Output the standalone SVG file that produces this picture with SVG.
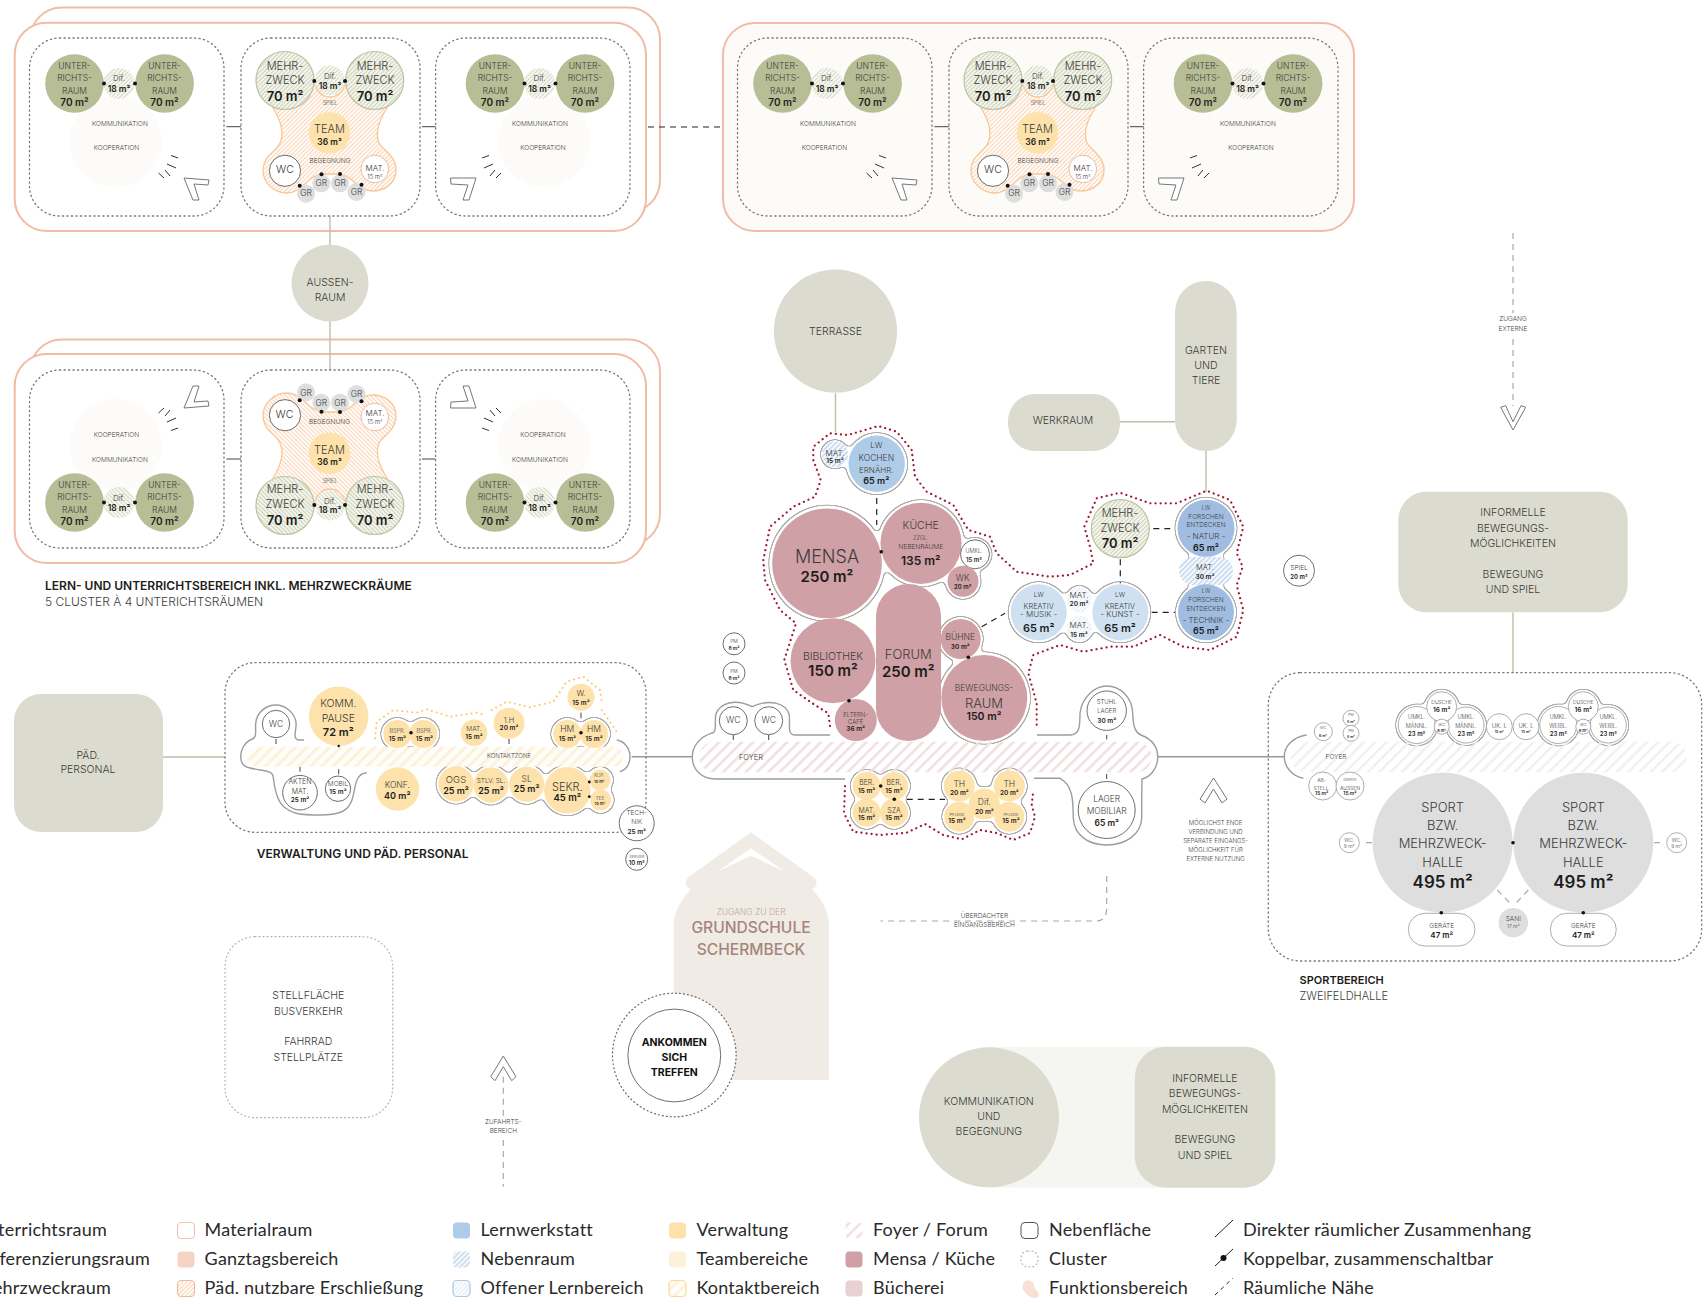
<svg xmlns="http://www.w3.org/2000/svg" width="1708" height="1304" viewBox="0 0 1708 1304">
<style>
text{font-family:Inter,"Liberation Sans",sans-serif;text-anchor:middle;dominant-baseline:central;fill:#3c3c3a;font-weight:300}
.b{font-weight:600;fill:#1d1d1b}.l{text-anchor:start}
.z35{font-size:3.5px}.z4{font-size:4px}.z45{font-size:4.5px}.z5{font-size:5px}.z55{font-size:5.5px}.z6{font-size:6px}.z65{font-size:6.5px}.z7{font-size:7px}.z75{font-size:7.5px}.z8{font-size:8px}.z85{font-size:8.5px}.z9{font-size:9px}.z95{font-size:9.5px}.z10{font-size:10px}.z105{font-size:10.5px}.z11{font-size:11px}.z12{font-size:12px}.z13{font-size:13px}.z15{font-size:15px}.z17{font-size:17px}.z18{font-size:18px}
.leg{font-family:Lato,"Liberation Sans",sans-serif;font-size:18px;letter-spacing:.2px;text-anchor:start;fill:#2a2a2a;font-weight:400}
.ur{fill:#b7bd95}.mz{fill:url(#hG);stroke:#bcc3a1;stroke-width:1.2}.dif{fill:url(#hG2)}
.y{fill:#fde2ab}.m{fill:#cfa0a6}.w{fill:#fff;stroke:#6e6e6e;stroke-width:1}.wl{fill:#fff;stroke:#999;stroke-width:.8}
.gr{fill:#dedede}.sg{fill:#dbdccf}.lb{fill:#aecbe8}.lp{fill:#cfe1f0}.ld{fill:#a0bce0}
.d{fill:#111}.pk{fill:#fff;stroke:#eebba6;stroke-width:1}
.cl{fill:none;stroke:#777;stroke-width:1.3;stroke-dasharray:1.2 3.3;stroke-linecap:round}
.clf{fill:none;stroke:#b5b5b5;stroke-width:1.2;stroke-dasharray:1 3;stroke-linecap:round}
.peach{fill:#fff;stroke:#f1bba5;stroke-width:2}
.c{stroke:#444;stroke-width:1;fill:none}.cg{stroke:#bcc0a4;stroke-width:1.4;fill:none}.cm{stroke:#999;stroke-width:1.4;fill:none}
.cd{stroke:#222;stroke-width:1.2;stroke-dasharray:6 5;fill:none}.cdg{stroke:#a9a9a9;stroke-width:1.2;stroke-dasharray:6 5;fill:none}
.red{fill:none;stroke:#9c1b32;stroke-width:2.2;stroke-dasharray:.1 5;stroke-linecap:round;stroke-linejoin:round}
.yd{fill:none;stroke:#fbc868;stroke-width:2;stroke-dasharray:.1 5;stroke-linecap:round}
.o{fill:none;stroke:#9d9d9d;stroke-width:1.4}
.ch{fill:#fff;stroke:#777;stroke-width:1}
.ti{stroke:#333;stroke-width:1;fill:none}
</style>
<defs>
<pattern id="hG" width="3" height="3" patternUnits="userSpaceOnUse" patternTransform="rotate(45)"><rect width="3" height="3" fill="#f6f7f0"/><rect width="1.1" height="3" fill="#cdd2b8"/></pattern>
<pattern id="hG2" width="3" height="3" patternUnits="userSpaceOnUse" patternTransform="rotate(45)"><rect width="3" height="3" fill="#f8f8f3"/><rect width="1" height="3" fill="#d5d8c2"/></pattern>
<pattern id="hO" width="3" height="3" patternUnits="userSpaceOnUse" patternTransform="rotate(45)"><rect width="3" height="3" fill="#fff"/><rect width="1.1" height="3" fill="#fbd4b4"/></pattern>
<pattern id="hPale" width="3" height="3" patternUnits="userSpaceOnUse" patternTransform="rotate(45)"><rect width="3" height="3" fill="#fefdfc"/><rect width="1" height="3" fill="#fbf8f4"/></pattern>
<pattern id="hP" width="8" height="8" patternUnits="userSpaceOnUse" patternTransform="rotate(45)"><rect width="2.6" height="8" fill="#f1dfe1"/></pattern>
<pattern id="hY" width="8" height="8" patternUnits="userSpaceOnUse" patternTransform="rotate(45)"><rect width="8" height="8" fill="#fffdf9"/><rect width="2.6" height="8" fill="#fdf0d6"/></pattern>
<pattern id="hGy" width="8" height="8" patternUnits="userSpaceOnUse" patternTransform="rotate(45)"><rect width="2.4" height="8" fill="#f0f0f0"/></pattern>
<pattern id="hB" width="3.6" height="3.6" patternUnits="userSpaceOnUse" patternTransform="rotate(45)"><rect width="3.6" height="3.6" fill="#f5f9fd"/><rect width="1.3" height="3.6" fill="#bdd3ec"/></pattern>
<pattern id="hB2" width="3" height="3" patternUnits="userSpaceOnUse" patternTransform="rotate(45)"><rect width="3" height="3" fill="#fafcfe"/><rect width="1" height="3" fill="#e3edf6"/></pattern>
<filter id="goo" x="-12%" y="-12%" width="124%" height="124%" color-interpolation-filters="sRGB">
<feGaussianBlur in="SourceAlpha" stdDeviation="2.5"/>
<feColorMatrix values="0 0 0 0 .68  0 0 0 0 .68  0 0 0 0 .68  0 0 0 14 -6" result="o"/>
<feMorphology in="o" operator="erode" radius="1" result="e"/>
<feComposite in="o" in2="e" operator="out"/>
</filter>
<g id="sU">
<circle class="dif" cx="119" cy="83.5" r="15.5"/>
<ellipse class="ur" cx="74.5" cy="83.5" rx="29.3" ry="29.3"/>
<ellipse class="ur" cx="164.6" cy="83.5" rx="29.3" ry="29.3"/>
<circle class="d" cx="104" cy="83.5" r="2"/><circle class="d" cx="135" cy="83.5" r="2"/>
</g>
<g id="sB">
<path d="M273,108 C282,122 284,135 280,143 C276,152 263,156 263,170 C263,183 274,193 287,193 C303,193 308,174 324,174 L337,174 C352,174 358,191 372,191 C385,191 396,183 396,170 C396,156 383,150 379,143 C375,133 378,122 387,108 L345,85 C342,93 336,97 330,97 C324,97 318,93 315,85 Z" fill="url(#hO)" stroke="#fbc691" stroke-width="1.3"/>
<circle class="mz" cx="285" cy="80.5" r="29"/><circle class="mz" cx="374.7" cy="80.5" r="29"/>
<circle class="dif" cx="330" cy="80.5" r="15"/>
<circle class="y" cx="329.5" cy="132.8" r="20.8"/>
<circle class="w" cx="285" cy="170.8" r="15.6"/><circle class="pk" cx="374.8" cy="169" r="13.8"/>
<circle class="gr" cx="306" cy="193.7" r="9"/><circle class="gr" cx="321.3" cy="183.3" r="9"/><circle class="gr" cx="340" cy="183.3" r="9"/><circle class="gr" cx="356.5" cy="192" r="9"/>
<circle class="d" cx="314.3" cy="81" r="2"/><circle class="d" cx="345" cy="81" r="2"/><circle class="d" cx="299.7" cy="185.7" r="2"/><circle class="d" cx="321.5" cy="174.3" r="2"/><circle class="d" cx="340" cy="174" r="2"/><circle class="d" cx="361.5" cy="184.7" r="2"/>
</g>
<g id="chA"><polygon class="ch" points="184,178 209,180 208,185 194,184 199,200 193,200"/><path class="ti" d="M171,155.500L178,158M167,164L176,168M165,170L170,176M158.500,173L164,178"/></g>
<g id="chC"><polygon class="ch" points="450.500,178 476,178 469,200 463,200 468,185 451,184"/><path class="ti" d="M489,155.500L482,158M493,164L484,168M495,170L490,176M501,173L496,178"/></g>
</defs>
<rect width="1708" height="1304" fill="#fff"/>

<g id="frames">
<rect class="peach" x="30" y="7.500" width="630" height="205" rx="32"/><rect class="peach" x="14.700" y="22.700" width="631.300" height="208.300" rx="32"/>
<rect class="peach" x="30" y="339.500" width="630" height="206" rx="32"/><rect class="peach" x="14.700" y="354" width="631.300" height="209" rx="32"/>
<rect x="723" y="23" width="631" height="208" rx="32" fill="#fdfbf8" stroke="#f1bba5" stroke-width="2"/>
</g>

<g id="connectors">
<path class="c" d="M226.400,126.700H241M422,126.700H435.600M934.400,126.700H949M1130,126.700H1143.600M226.400,459H241M422,459H435.600"/>
<path class="cd" d="M648,127H722"/>
<path class="cg" d="M330,216V370M835.500,393V432M1120,421.700H1175M1206,451V491.700M1513,612.300V672.700M163,757H225"/>
<path class="cm" d="M631.700,756.700H692.300M1157.700,756.700H1284.300"/>
<path class="cdg" d="M1513,233V313M1513,339V406M503.300,1076.700V1116.700M503.300,1140V1186.700M1106.700,876V908.300Q1106.700,921 1095.500,921H880.400"/>
<path class="cdg" d="M1497.300,890L1512.700,906M1528.300,890L1513.300,906M1366,842.700H1372M1654.300,842.700H1660"/>
<path class="cd" d="M876.700,498V525M1153.300,528.700H1175M1120.300,559.300V583.300M1151.700,612.300H1175M981.700,626.700L1005,613.300M906.700,799.300H945"/>
<path class="c" d="M733.300,735V740M768.700,735V740M1106.700,735V739.300M1106.700,774V779M276,739V744M300,766.700V771.700M338.700,769.300V774.300M509,739V744M581,712.700V718.300"/>
</g>

<g id="row1-left">
<g id="r1-a"><rect class="cl" x="29.500" y="38" width="194.500" height="178" rx="30"/><circle fill="url(#hPale)" cx="115.700" cy="141" r="46"/><use href="#sU"/><use href="#chA"/>
<text x="74.500" y="66" class="z85">UNTER-</text><text x="74.500" y="78.300" class="z85">RICHTS-</text><text x="74.500" y="90.700" class="z85">RAUM</text><text x="74.500" y="101.500" class="z10 b">70 m²</text>
<text x="164.500" y="66" class="z85">UNTER-</text><text x="164.500" y="78.300" class="z85">RICHTS-</text><text x="164.500" y="90.700" class="z85">RAUM</text><text x="164.500" y="101.500" class="z10 b">70 m²</text>
<text x="119" y="77.700" class="z8">Dif.</text><text x="119" y="89" class="z85 b">18 m²</text>
<text x="120" y="124.300" class="z65">KOMMUNIKATION</text><text x="116.500" y="148.300" class="z65">KOOPERATION</text></g>
<g id="r1-b"><rect class="cl" x="241" y="38" width="179" height="178" rx="30"/><use href="#sB"/>
<text x="285" y="65.700" class="z11">MEHR-</text><text x="285" y="80.300" class="z11">ZWECK</text><text x="285" y="95.700" class="z13 b">70 m²</text>
<text x="375" y="65.700" class="z11">MEHR-</text><text x="375" y="80.300" class="z11">ZWECK</text><text x="375" y="95.700" class="z13 b">70 m²</text>
<text x="330" y="76" class="z8">Dif.</text><text x="330" y="85.700" class="z85 b">18 m²</text><text x="330" y="103.300" class="z55">SPIEL</text>
<text x="329.500" y="129.300" class="z11">TEAM</text><text x="329.500" y="141.700" class="z85 b">36 m²</text><text x="330" y="161" class="z65">BEGEGNUNG</text>
<text x="285" y="169" class="z105">WC</text><text x="375" y="168.300" class="z8">MAT.</text><text x="375" y="176.700" class="z6">15 m²</text>
<text x="306" y="193.300" class="z85">GR</text><text x="321.300" y="183.300" class="z85">GR</text><text x="340" y="183.300" class="z85">GR</text><text x="356.500" y="192" class="z85">GR</text></g>
<g id="r1-c"><rect class="cl" x="435.600" y="38" width="194.400" height="178" rx="30"/><circle fill="url(#hPale)" cx="544" cy="141" r="46"/><use href="#sU" x="420.500"/><use href="#chC"/>
<text x="495" y="66" class="z85">UNTER-</text><text x="495" y="78.300" class="z85">RICHTS-</text><text x="495" y="90.700" class="z85">RAUM</text><text x="495" y="101.500" class="z10 b">70 m²</text>
<text x="585" y="66" class="z85">UNTER-</text><text x="585" y="78.300" class="z85">RICHTS-</text><text x="585" y="90.700" class="z85">RAUM</text><text x="585" y="101.500" class="z10 b">70 m²</text>
<text x="539.500" y="77.700" class="z8">Dif.</text><text x="539.500" y="89" class="z85 b">18 m²</text>
<text x="540" y="124.300" class="z65">KOMMUNIKATION</text><text x="543" y="148.300" class="z65">KOOPERATION</text></g>
</g>

<g id="row1-right" transform="translate(708 0)">
<g id="r2-a"><rect class="cl" x="29.500" y="38" width="194.500" height="178" rx="30"/><circle fill="url(#hPale)" cx="115.700" cy="141" r="46"/><use href="#sU"/><use href="#chA"/>
<text x="74.500" y="66" class="z85">UNTER-</text><text x="74.500" y="78.300" class="z85">RICHTS-</text><text x="74.500" y="90.700" class="z85">RAUM</text><text x="74.500" y="101.500" class="z10 b">70 m²</text>
<text x="164.500" y="66" class="z85">UNTER-</text><text x="164.500" y="78.300" class="z85">RICHTS-</text><text x="164.500" y="90.700" class="z85">RAUM</text><text x="164.500" y="101.500" class="z10 b">70 m²</text>
<text x="119" y="77.700" class="z8">Dif.</text><text x="119" y="89" class="z85 b">18 m²</text>
<text x="120" y="124.300" class="z65">KOMMUNIKATION</text><text x="116.500" y="148.300" class="z65">KOOPERATION</text></g>
<g id="r2-b"><rect class="cl" x="241" y="38" width="179" height="178" rx="30"/><use href="#sB"/>
<text x="285" y="65.700" class="z11">MEHR-</text><text x="285" y="80.300" class="z11">ZWECK</text><text x="285" y="95.700" class="z13 b">70 m²</text>
<text x="375" y="65.700" class="z11">MEHR-</text><text x="375" y="80.300" class="z11">ZWECK</text><text x="375" y="95.700" class="z13 b">70 m²</text>
<text x="330" y="76" class="z8">Dif.</text><text x="330" y="85.700" class="z85 b">18 m²</text><text x="330" y="103.300" class="z55">SPIEL</text>
<text x="329.500" y="129.300" class="z11">TEAM</text><text x="329.500" y="141.700" class="z85 b">36 m²</text><text x="330" y="161" class="z65">BEGEGNUNG</text>
<text x="285" y="169" class="z105">WC</text><text x="375" y="168.300" class="z8">MAT.</text><text x="375" y="176.700" class="z6">15 m²</text>
<text x="306" y="193.300" class="z85">GR</text><text x="321.300" y="183.300" class="z85">GR</text><text x="340" y="183.300" class="z85">GR</text><text x="356.500" y="192" class="z85">GR</text></g>
<g id="r2-c"><rect class="cl" x="435.600" y="38" width="194.400" height="178" rx="30"/><circle fill="url(#hPale)" cx="544" cy="141" r="46"/><use href="#sU" x="420.500"/><use href="#chC"/>
<text x="495" y="66" class="z85">UNTER-</text><text x="495" y="78.300" class="z85">RICHTS-</text><text x="495" y="90.700" class="z85">RAUM</text><text x="495" y="101.500" class="z10 b">70 m²</text>
<text x="585" y="66" class="z85">UNTER-</text><text x="585" y="78.300" class="z85">RICHTS-</text><text x="585" y="90.700" class="z85">RAUM</text><text x="585" y="101.500" class="z10 b">70 m²</text>
<text x="539.500" y="77.700" class="z8">Dif.</text><text x="539.500" y="89" class="z85 b">18 m²</text>
<text x="540" y="124.300" class="z65">KOMMUNIKATION</text><text x="543" y="148.300" class="z65">KOOPERATION</text></g>
</g>

<g id="row3">
<g id="r3-a"><rect class="cl" x="29.500" y="370" width="194.500" height="178" rx="30"/><g transform="matrix(1 0 0 -1 0 586)"><circle fill="url(#hPale)" cx="115.700" cy="141" r="46"/><use href="#sU"/><use href="#chA"/></g>
<text x="74.500" y="485" class="z85">UNTER-</text><text x="74.500" y="497.300" class="z85">RICHTS-</text><text x="74.500" y="510" class="z85">RAUM</text><text x="74.500" y="520.700" class="z10 b">70 m²</text>
<text x="164.500" y="485" class="z85">UNTER-</text><text x="164.500" y="497.300" class="z85">RICHTS-</text><text x="164.500" y="510" class="z85">RAUM</text><text x="164.500" y="520.700" class="z10 b">70 m²</text>
<text x="119" y="498.300" class="z8">Dif.</text><text x="119" y="508.300" class="z85 b">18 m²</text>
<text x="116.500" y="435.300" class="z65">KOOPERATION</text><text x="120" y="460.300" class="z65">KOMMUNIKATION</text></g>
<g id="r3-b"><rect class="cl" x="241" y="370" width="179" height="178" rx="30"/><use href="#sB" transform="matrix(1 0 0 -1 0 586)"/>
<text x="285" y="489.300" class="z11">MEHR-</text><text x="285" y="504.300" class="z11">ZWECK</text><text x="285" y="520" class="z13 b">70 m²</text>
<text x="375" y="489.300" class="z11">MEHR-</text><text x="375" y="504.300" class="z11">ZWECK</text><text x="375" y="520" class="z13 b">70 m²</text>
<text x="330" y="500.700" class="z8">Dif.</text><text x="330" y="510" class="z85 b">18 m²</text><text x="330" y="480.700" class="z55">SPIEL</text>
<text x="329.500" y="450.300" class="z11">TEAM</text><text x="329.500" y="462" class="z85 b">36 m²</text><text x="329.500" y="422.300" class="z65">BEGEGNUNG</text>
<text x="284.500" y="414.300" class="z105">WC</text><text x="375" y="413.300" class="z8">MAT.</text><text x="375" y="421.700" class="z6">15 m²</text>
<text x="306" y="393" class="z85">GR</text><text x="321.300" y="403" class="z85">GR</text><text x="340" y="403" class="z85">GR</text><text x="356.500" y="394" class="z85">GR</text></g>
<g id="r3-c"><rect class="cl" x="435.600" y="370" width="194.400" height="178" rx="30"/><g transform="matrix(1 0 0 -1 0 586)"><circle fill="url(#hPale)" cx="544" cy="141" r="46"/><use href="#sU" x="420.500"/><use href="#chC"/></g>
<text x="495" y="485" class="z85">UNTER-</text><text x="495" y="497.300" class="z85">RICHTS-</text><text x="495" y="510" class="z85">RAUM</text><text x="495" y="520.700" class="z10 b">70 m²</text>
<text x="585" y="485" class="z85">UNTER-</text><text x="585" y="497.300" class="z85">RICHTS-</text><text x="585" y="510" class="z85">RAUM</text><text x="585" y="520.700" class="z10 b">70 m²</text>
<text x="539.500" y="498.300" class="z8">Dif.</text><text x="539.500" y="508.300" class="z85 b">18 m²</text>
<text x="543" y="435.300" class="z65">KOOPERATION</text><text x="540" y="460.300" class="z65">KOMMUNIKATION</text></g>
</g>

<g id="aussenraum"><circle class="sg" cx="330" cy="283" r="38.500"/><text x="330" y="282" class="z105">AUSSEN-</text><text x="330" y="297" class="z105">RAUM</text></g>
<text x="45" y="585" class="l z12 b">LERN- UND UNTERRICHTSBEREICH INKL. MEHRZWECKRÄUME</text>
<text x="45" y="601.700" class="l z12">5 CLUSTER À 4 UNTERICHTSRÄUMEN</text>

<g id="terrasse"><circle class="sg" cx="835.500" cy="331" r="61.600"/><text x="835.500" y="331" class="z105">TERRASSE</text></g>
<g id="werkraum"><rect class="sg" x="1008" y="394" width="112" height="57" rx="27"/><text x="1063" y="420.500" class="z105">WERKRAUM</text></g>
<g id="garten"><rect class="sg" x="1175" y="281" width="61.700" height="170" rx="31"/><text x="1206" y="350" class="z105">GARTEN</text><text x="1206" y="365" class="z105">UND</text><text x="1206" y="380" class="z105">TIERE</text></g>
<g id="informelle1"><rect class="sg" x="1398.300" y="491.700" width="229.400" height="120.600" rx="28"/><text x="1513" y="512.300" class="z105">INFORMELLE</text><text x="1513" y="528.300" class="z105">BEWEGUNGS-</text><text x="1513" y="543.300" class="z105">MÖGLICHKEITEN</text><text x="1513" y="574" class="z105">BEWEGUNG</text><text x="1513" y="589" class="z105">UND SPIEL</text></g>
<g id="zugang-extern"><text x="1513" y="319.300" class="z65">ZUGANG</text><text x="1513" y="329.300" class="z65">EXTERNE</text><polygon class="ch" points="1500.700,407.300 1505.700,405.700 1513,421.700 1521,405.700 1525.700,407.300 1513,430"/></g>
<g id="spiel"><circle class="w" cx="1299" cy="570.700" r="15.500"/><text x="1299" y="568" class="z65">SPIEL</text><text x="1299" y="576.500" class="z6 b">20 m²</text></g>
<g id="pm1"><circle class="w" cx="734" cy="643.800" r="11"/><text x="734" y="641" class="z5">PM</text><text x="734" y="648" class="z5 b">8 m²</text></g>
<g id="pm2"><circle class="w" cx="734" cy="673" r="11"/><text x="734" y="670.500" class="z5">PM</text><text x="734" y="677.500" class="z5 b">8 m²</text></g>

<g id="zones">
<polyline class="red" points="830,726 828.300,713.300 815,705 793.300,690 784.300,660 791.700,636.700 796,623.300 780,610 765,580 763.300,560 770,526.700 793.300,506.700 815,496.700 820.700,480 813.300,460 813.300,446.700 830,433.300 848.300,435 878.300,426 896.700,431.700 911.700,450 915,476.700 926.700,491.700 953.300,505 968.300,530 990,536.700 996.700,553.300 1016.700,571.700 1050,576.700 1070,575 1093.300,563.300 1090,546.700 1084.300,526.700 1096.700,498.300 1120,492.700 1150,503.300 1176.700,503.300 1206.700,490.700 1230,500 1243.300,526.700 1236.700,553.300 1242.700,566.700 1236.700,585 1243.300,610 1236.700,636.700 1210,650 1183.300,646.700 1160,635 1133.300,646.700 1110,646.700 1083.300,651.700 1060,645 1033.300,655 1028.300,673.300 1036.700,703.300 1036.700,726.700"/>
<polyline class="red" points="845,786 844,813.300 853.300,831.700 880,835 906.700,832.700 925,824 943.300,835 961.700,839.300 980,830 996.700,833 1013.300,840 1030,833 1035,816.700 1031.700,805 1033.300,790.700"/>
<polyline class="yd" points="375,738.300 376.700,721.700 393.300,710 416.700,712.700 426.700,709.300 450,716.700 476.700,712.700 485,715"/>
<polyline class="yd" points="491.700,710 506.700,701.700 530,707.300 553.300,701.700 566.700,681.700 583.300,676.700 600,690 601.700,701.700"/>
<polyline class="yd" points="601.700,710 616.700,731.700"/>
</g>

<g id="outlines">
<g filter="url(#goo)"><circle cx="827" cy="563.300" r="58.500"/><circle cx="921" cy="543.300" r="44"/><circle cx="975" cy="554.300" r="17.500"/><circle cx="963" cy="581.300" r="18.500"/></g>
<g filter="url(#goo)"><circle cx="876.700" cy="463.700" r="31.500"/><circle cx="835" cy="454.300" r="15"/></g>
<g filter="url(#goo)"><circle cx="960.700" cy="639" r="23"/><circle cx="984.300" cy="698" r="46.500"/></g>
<g filter="url(#goo)"><circle cx="1206" cy="528.300" r="31.500"/><circle cx="1206" cy="571" r="22"/><circle cx="1206" cy="612.300" r="31"/></g>
<g filter="url(#goo)"><circle cx="1038.700" cy="612.300" r="31"/><circle cx="1079.300" cy="600" r="15"/><circle cx="1079.300" cy="628.300" r="15"/><circle cx="1120.300" cy="612.300" r="31"/></g>
<g filter="url(#goo)"><circle cx="866.700" cy="786" r="17"/><circle cx="894" cy="786" r="17"/><circle cx="866.700" cy="812.700" r="17"/><circle cx="894" cy="812.700" r="17"/></g>
<g filter="url(#goo)"><circle cx="959.300" cy="786" r="18.500"/><circle cx="1009.300" cy="786" r="18.500"/><circle cx="984.300" cy="804" r="18"/><circle cx="959.300" cy="816.700" r="18"/><circle cx="1009.300" cy="816.700" r="18"/></g>
<g filter="url(#goo)"><circle cx="397.300" cy="734" r="17"/><circle cx="423.300" cy="734" r="17"/></g>
<g filter="url(#goo)"><circle cx="567.300" cy="734" r="17"/><circle cx="594" cy="734" r="17"/></g>
<g filter="url(#goo)"><circle cx="456" cy="784" r="20.500"/><circle cx="491" cy="785" r="20.500"/><circle cx="526.700" cy="784.300" r="20.500"/><circle cx="567.300" cy="790.300" r="26"/><circle cx="600" cy="780" r="14"/><circle cx="600.700" cy="800" r="14"/></g>
<g filter="url(#goo)"><circle cx="1416.700" cy="725" r="21.500"/><circle cx="1441.700" cy="706.700" r="18"/><circle cx="1466" cy="725" r="21"/></g>
<g filter="url(#goo)"><circle cx="1558.300" cy="725" r="21.500"/><circle cx="1583.300" cy="706.700" r="18"/><circle cx="1608.300" cy="725" r="21"/></g>
</g>

<g id="foyer">
<rect x="699.300" y="741.700" width="452.400" height="30.600" rx="15" fill="url(#hP)"/>
<path class="o" d="M830,735H795C786,735 791,722 789,714C786,704 771,698 752,706.700C735,698 720,703 716,714C714,722 718,733 711,733.300C700,737 692.300,746 692.300,756.700C692.300,770 702,779 715,779H845"/>
<path class="o" d="M1037,735H1070C1080,735 1080,725 1080,713C1082,697 1095,686 1106.700,686C1120,686 1132,697 1132.700,713C1133,728 1136,733 1141,735C1151,739 1157.700,746 1157.700,756.700C1157.700,769 1150,777 1142,779C1141.700,790 1141.700,810 1141.700,818C1141,835 1125,845 1106.700,845C1088,845 1074,835 1073.300,818C1073,805 1074,785 1060,778.300H1034"/>
<circle class="w" cx="733.300" cy="720.700" r="14"/><text x="733.300" y="720" class="z85">WC</text>
<circle class="w" cx="768.700" cy="720.700" r="14"/><text x="768.700" y="720" class="z85">WC</text>
<text x="751" y="757.300" class="z75">FOYER</text>
<circle class="w" cx="1106.700" cy="710.700" r="19.700"/><text x="1106.700" y="701.700" class="z6">STUHL</text><text x="1106.700" y="710.700" class="z6">LAGER</text><text x="1106.700" y="720.700" class="z65 b">30 m²</text>
<circle class="w" cx="1106.700" cy="810" r="28.500"/><text x="1106.700" y="799" class="z85">LAGER</text><text x="1106.700" y="811" class="z85">MOBILIAR</text><text x="1106.700" y="823.300" class="z85 b">65 m²</text>
</g>

<g id="node-kochen"><circle fill="url(#hB)" cx="835" cy="454.300" r="13"/><circle class="lb" cx="876.700" cy="463.700" r="28.200"/>
<text x="876.300" y="445" class="z8">LW</text><text x="876.300" y="458" class="z85">KOCHEN</text><text x="876.300" y="470" class="z8">ERNÄHR.</text><text x="876.300" y="480.700" class="z9 b">65 m²</text>
<text x="835" y="452.700" class="z8">MAT.</text><text x="835" y="461.300" class="z65 b">15 m²</text></g>
<g id="node-mensa"><circle class="m" cx="827" cy="563.300" r="54.800"/><text x="827" y="556.700" class="z18">MENSA</text><text x="827" y="576" class="z15 b">250 m²</text></g>
<g id="node-kueche"><circle class="m" cx="921" cy="543.300" r="40.600"/><text x="920.700" y="525.300" class="z105">KÜCHE</text><text x="920.700" y="538.300" class="z55">ZZGL.</text><text x="920.700" y="547.300" class="z65">NEBENRÄUME</text><text x="920.700" y="560" class="z12 b">135 m²</text></g>
<g id="node-umkl"><circle class="w" cx="975" cy="554.300" r="14.500"/><text x="974" y="551.300" class="z55">UMKL.</text><text x="974" y="559.300" class="z6 b">15 m²</text></g>
<g id="node-wk"><circle class="m" cx="963" cy="581.300" r="15.500"/><text x="962.700" y="578" class="z85">WK</text><text x="962.700" y="586" class="z6 b">20 m²</text></g>
<g id="node-bibliothek"><circle class="m" cx="833" cy="660.700" r="42.500"/><text x="833" y="656" class="z105">BIBLIOTHEK</text><text x="833" y="670.700" class="z15 b">150 m²</text></g>
<g id="node-forum"><rect class="m" x="876" y="584" width="65" height="157" rx="32.500"/><text x="908.300" y="654.300" class="z13">FORUM</text><text x="908.300" y="671.300" class="z15 b">250 m²</text></g>
<g id="node-eltern"><circle class="m" cx="855.800" cy="720" r="21"/><text x="855.700" y="714.700" class="z6">ELTERN-</text><text x="855.700" y="721.700" class="z6">CAFÉ</text><text x="855.700" y="729.300" class="z65 b">36 m²</text></g>
<g id="node-buehne"><circle class="m" cx="960.700" cy="639" r="20"/><text x="960.300" y="637" class="z85">BÜHNE</text><text x="960.300" y="646.700" class="z65 b">30 m²</text></g>
<g id="node-bewegung"><circle class="m" cx="984.300" cy="698" r="43"/><text x="984" y="688" class="z85">BEWEGUNGS-</text><text x="984" y="703.300" class="z13">RAUM</text><text x="984" y="716" class="z105 b">150 m²</text></g>
<circle class="d" cx="881.300" cy="551.700" r="1.800"/><circle class="d" cx="849" cy="700.700" r="1.800"/><circle class="d" cx="968.300" cy="657.300" r="1.800"/>

<g id="node-mz"><circle class="mz" cx="1120.300" cy="528.700" r="29"/><text x="1120" y="513.300" class="z11">MEHR-</text><text x="1120" y="528" class="z11">ZWECK</text><text x="1120" y="543.300" class="z13 b">70 m²</text></g>
<g id="node-natur"><circle class="ld" cx="1206" cy="528.300" r="28.500"/><text x="1206" y="507.700" class="z55">LW</text><text x="1206" y="516.700" class="z65">FORSCHEN</text><text x="1206" y="525.300" class="z65">ENTDECKEN</text><text x="1206" y="536" class="z8">- NATUR -</text><text x="1206" y="547" class="z9 b">65 m²</text></g>
<g id="node-mat30"><rect fill="url(#hB)" x="1179" y="557" width="54" height="28" rx="14"/><text x="1205" y="567.700" class="z75">MAT.</text><text x="1205" y="577.300" class="z65 b">30 m²</text></g>
<g id="node-technik"><circle class="ld" cx="1206" cy="612.300" r="28"/><text x="1206" y="590.700" class="z55">LW</text><text x="1206" y="600.300" class="z65">FORSCHEN</text><text x="1206" y="609.300" class="z65">ENTDECKEN</text><text x="1206" y="620" class="z8">- TECHNIK -</text><text x="1206" y="630" class="z9 b">65 m²</text></g>
<g id="node-musik"><circle class="lp" cx="1038.700" cy="612.300" r="28"/><text x="1038.700" y="595" class="z65">LW</text><text x="1038.700" y="606" class="z75">KREATIV</text><text x="1038.700" y="614" class="z8">- MUSIK -</text><text x="1038.700" y="628.300" class="z11 b">65 m²</text></g>
<g id="node-kunst"><circle class="lp" cx="1120.300" cy="612.300" r="28"/><text x="1120" y="595" class="z65">LW</text><text x="1120" y="606" class="z75">KREATIV</text><text x="1120" y="614" class="z8">- KUNST -</text><text x="1120" y="628.300" class="z11 b">65 m²</text></g>
<g id="node-mat20"><circle fill="url(#hB2)" cx="1079.300" cy="600" r="12.500"/><text x="1079" y="595" class="z8">MAT.</text><text x="1079" y="603.700" class="z65 b">20 m²</text></g>
<g id="node-mat15"><circle fill="url(#hB2)" cx="1079.300" cy="628.300" r="12.500"/><text x="1079" y="625" class="z8">MAT.</text><text x="1079" y="634.700" class="z65 b">15 m²</text></g>

<g id="node-ber"><circle class="y" cx="866.700" cy="786" r="14"/><circle class="y" cx="894" cy="786" r="14"/><circle class="y" cx="866.700" cy="812.700" r="14"/><circle class="y" cx="894" cy="812.700" r="14"/><circle class="d" cx="880.700" cy="786" r="1.800"/><circle class="d" cx="894.300" cy="799.300" r="1.800"/>
<text x="866.700" y="782" class="z7">BER.</text><text x="866.700" y="790.700" class="z65 b">15 m²</text><text x="894" y="782" class="z7">BER.</text><text x="894" y="790.700" class="z65 b">15 m²</text>
<text x="866.700" y="810.700" class="z7">MAT.</text><text x="866.700" y="817.700" class="z65 b">15 m²</text><text x="894" y="810.700" class="z7">SZA</text><text x="894" y="817.700" class="z65 b">15 m²</text></g>
<g id="node-th"><circle class="y" cx="959.300" cy="786" r="15.500"/><circle class="y" cx="1009.300" cy="786" r="15.500"/><circle class="y" cx="959.300" cy="816.700" r="15"/><circle class="y" cx="1009.300" cy="816.700" r="15"/><circle class="y" cx="984.300" cy="804" r="15.500"/>
<text x="959.300" y="784" class="z85">TH</text><text x="959.300" y="792.700" class="z65 b">20 m²</text><text x="1009.300" y="784" class="z85">TH</text><text x="1009.300" y="792.700" class="z65 b">20 m²</text>
<text x="984.300" y="802.300" class="z85">Dif.</text><text x="984.300" y="811.700" class="z65 b">20 m²</text>
<text x="957" y="814.300" class="z4">PFLEGE</text><text x="957" y="821" class="z65 b">15 m²</text><text x="1011" y="814.300" class="z4">PFLEGE</text><text x="1011" y="821" class="z65 b">15 m²</text></g>

<g id="verwaltung">
<rect class="cl" x="225" y="662.700" width="421" height="169.600" rx="30"/>
<rect x="246.700" y="746.700" width="376.600" height="20" rx="10" fill="url(#hY)"/>
<path class="o" d="M304,740H298C292,738 297,730 296,722C294,712 285,705 276,705C266,705 257,712 255.700,723C255,732 258,738 250,740C244,743 240.700,750 240.700,756.700C240.700,763 244,767 250,768C262,771 272,770 273,776C275,790 277,800 283,806C292,814 300,815 320,815C338,815 348,812 352,800C356,788 354,774 366.700,772.700"/>
<path class="o" d="M616.700,740C624,741 630,748 630,756.700C630,764 626,770 620,771.700"/>
<g id="node-wc"><circle class="w" cx="276" cy="724" r="13.700"/><text x="276" y="724" class="z85">WC</text></g>
<g id="node-komm"><circle class="y" cx="338.700" cy="716.300" r="29.700"/><circle class="d" cx="338.700" cy="746" r="1.200"/><text x="338.300" y="703.300" class="z105">KOMM.</text><text x="338.300" y="718.300" class="z105">PAUSE</text><text x="338.300" y="732.300" class="z11 b">72 m²</text></g>
<g id="node-akten"><circle class="w" cx="300" cy="792.700" r="17.300"/><text x="300" y="781.700" class="z7">AKTEN</text><text x="300" y="791" class="z7">MAT.</text><text x="300" y="799.700" class="z65 b">25 m²</text></g>
<g id="node-mobil"><circle class="w" cx="338" cy="788.700" r="12.700"/><text x="338" y="784.300" class="z65">MOBIL</text><text x="338" y="792.300" class="z65 b">15 m²</text></g>
<g id="node-konf"><circle class="y" cx="397.500" cy="789" r="21.700"/><text x="397.300" y="785" class="z85">KONF.</text><text x="397.300" y="795" class="z9 b">40 m²</text></g>
<g id="node-bspr"><circle class="y" cx="397.300" cy="734" r="14"/><circle class="y" cx="423.300" cy="734" r="14"/><circle class="d" cx="411" cy="732.700" r="1.800"/><text x="397.300" y="730.700" class="z55">BSPR.</text><text x="397.300" y="739" class="z65 b">15 m²</text><text x="424.300" y="730.700" class="z55">BSPR.</text><text x="424.300" y="739" class="z65 b">15 m²</text></g>
<g id="node-matv"><circle class="y" cx="474" cy="732.700" r="13.300"/><text x="474" y="729.300" class="z65">MAT.</text><text x="474" y="737.300" class="z65 b">15 m²</text></g>
<g id="node-1h"><circle class="y" cx="509" cy="723.300" r="15.500"/><text x="509" y="720" class="z75">1.H</text><text x="509" y="728.300" class="z65 b">20 m²</text></g>
<g id="node-w"><circle class="y" cx="581" cy="697.300" r="13.500"/><text x="581" y="693" class="z8">W.</text><text x="581" y="702.700" class="z65 b">15 m²</text></g>
<g id="node-hm"><circle class="y" cx="567.300" cy="734" r="14"/><circle class="y" cx="594" cy="734" r="14"/><circle class="d" cx="581" cy="732.700" r="1.800"/><text x="567.300" y="729" class="z85">HM</text><text x="567.300" y="738.700" class="z65 b">15 m²</text><text x="594" y="729" class="z85">HM</text><text x="594" y="738.700" class="z65 b">15 m²</text></g>
<text x="509" y="755.300" class="z6">KONTAKTZONE</text>
<g id="node-sekr"><circle class="y" cx="456" cy="784" r="17.700"/><circle class="y" cx="491" cy="785" r="17.500"/><circle class="y" cx="526.700" cy="784.300" r="17.500"/><circle class="y" cx="567.300" cy="790.300" r="23.200"/><circle class="y" cx="600" cy="780" r="10.500"/><circle class="y" cx="600.700" cy="800" r="10.500"/><circle class="d" cx="589.300" cy="782" r="1.400"/><circle class="d" cx="589.300" cy="796.700" r="1.400"/>
<text x="456" y="779" class="z95">OGS</text><text x="456" y="790" class="z9 b">25 m²</text><text x="491" y="780.700" class="z65">STLV. SL.</text><text x="491" y="790" class="z9 b">25 m²</text><text x="526.700" y="779" class="z85">SL</text><text x="526.700" y="788.300" class="z9 b">25 m²</text>
<text x="567.300" y="786.700" class="z11">SEKR.</text><text x="567.300" y="797.700" class="z95 b">45 m²</text><text x="599.300" y="775" class="z45">KOP.</text><text x="599.300" y="781.700" class="z4 b">10 m²</text><text x="600" y="797.700" class="z5">TEE</text><text x="600" y="803.300" class="z4 b">10 m²</text></g>
<g id="node-technikr"><circle class="w" cx="636.700" cy="823.300" r="17.500"/><text x="636.700" y="812.700" class="z65">TECH-</text><text x="636.700" y="822.300" class="z65">NIK</text><text x="636.700" y="831.700" class="z65 b">25 m²</text></g>
<g id="node-server"><circle class="w" cx="636.700" cy="859.300" r="11"/><text x="636.700" y="856.700" class="z4">SERVER</text><text x="636.700" y="862.300" class="z6 b">10 m²</text></g>
</g>
<text x="256.700" y="853.300" class="l z12 b">VERWALTUNG UND PÄD. PERSONAL</text>
<g id="paed"><rect class="sg" x="14" y="694" width="149" height="138" rx="27"/><text x="88" y="755" class="z105">PÄD.</text><text x="88" y="769" class="z105">PERSONAL</text></g>

<g id="sport">
<rect class="cl" x="1268.300" y="672.700" width="433.400" height="288.300" rx="32"/>
<rect x="1290.700" y="741.700" width="396" height="30.600" rx="15" fill="url(#hGy)"/>
<path class="o" d="M1306.700,735C1293,737 1284.300,746 1284.300,756.700C1284.300,767 1292,776 1303.300,778.300"/>
<text x="1336" y="756.700" class="z65">FOYER</text>
<g id="node-sport1"><circle class="gr" cx="1442.700" cy="842.700" r="70"/><text x="1442.700" y="806.700" class="z13">SPORT</text><text x="1442.700" y="825" class="z13">BZW.</text><text x="1442.700" y="842.700" class="z13">MEHRZWECK-</text><text x="1442.700" y="861.700" class="z13">HALLE</text><text x="1442.700" y="882.300" class="z17 b">495 m²</text></g>
<g id="node-sport2"><circle class="gr" cx="1583.300" cy="842.700" r="70"/><text x="1583.300" y="806.700" class="z13">SPORT</text><text x="1583.300" y="825" class="z13">BZW.</text><text x="1583.300" y="842.700" class="z13">MEHRZWECK-</text><text x="1583.300" y="861.700" class="z13">HALLE</text><text x="1583.300" y="882.300" class="z17 b">495 m²</text></g>
<circle class="d" cx="1513" cy="842.700" r="1.800"/>
<g id="node-ger1"><rect class="wl" x="1408.300" y="913.300" width="66.700" height="32.700" rx="16.300"/><circle class="d" cx="1441.300" cy="912.700" r="1.800"/><text x="1441.700" y="925.700" class="z65">GERÄTE</text><text x="1441.700" y="935" class="z8 b">47 m²</text></g>
<g id="node-ger2"><rect class="wl" x="1550.300" y="913.300" width="66" height="32.700" rx="16.300"/><circle class="d" cx="1583.300" cy="912.700" r="1.800"/><text x="1583.300" y="925.700" class="z65">GERÄTE</text><text x="1583.300" y="935" class="z8 b">47 m²</text></g>
<g id="node-sani"><circle class="gr" cx="1513.300" cy="922.700" r="14.700"/><text x="1513.300" y="919.300" class="z65">SANI</text><text x="1513.300" y="926" class="z5">17 m²</text></g>
<g id="node-wcl"><circle class="wl" cx="1349.300" cy="842.700" r="10"/><text x="1349.300" y="840" class="z5">WC.</text><text x="1349.300" y="845.700" class="z5">9 m²</text></g>
<g id="node-wcr"><circle class="wl" cx="1676.700" cy="842.700" r="10"/><text x="1676.700" y="840" class="z5">WC.</text><text x="1676.700" y="845.700" class="z5">9 m²</text></g>
<g id="node-wcs"><circle class="wl" cx="1323.300" cy="731.700" r="9"/><text x="1323" y="728" class="z35">WC</text><text x="1323" y="735.500" class="z35 b">6 m²</text></g>
<g id="node-pm3"><circle class="wl" cx="1351" cy="718.300" r="8"/><text x="1351" y="715.300" class="z35">PM</text><text x="1351" y="721.700" class="z35 b">8 m²</text></g>
<g id="node-pm4"><circle class="wl" cx="1351" cy="733.300" r="8"/><text x="1351" y="731" class="z35">PM</text><text x="1351" y="736.500" class="z35 b">8 m²</text></g>
<g id="node-abstell"><circle class="wl" cx="1322.700" cy="786" r="14"/><text x="1321.700" y="780" class="z5">AB-</text><text x="1321.700" y="787.700" class="z5">STELL.</text><text x="1321.700" y="793.300" class="z5 b">15 m²</text></g>
<g id="node-aussen"><circle class="wl" cx="1350" cy="786" r="14"/><text x="1350" y="780" class="z35">GERÄTE</text><text x="1350" y="788" class="z5">AUSSEN</text><text x="1350" y="793.300" class="z5 b">15 m²</text></g>
<g id="node-umklm"><circle class="wl" cx="1416.700" cy="725" r="18.500"/><circle class="wl" cx="1466" cy="725" r="18"/><circle class="wl" cx="1441.700" cy="706.700" r="15"/><circle class="wl" cx="1441.700" cy="726.700" r="7.500"/>
<text x="1441.700" y="702" class="z5">DUSCHE</text><text x="1441.700" y="710" class="z65 b">16 m²</text><text x="1416.700" y="716.700" class="z55">UMKL.</text><text x="1416.700" y="725.700" class="z55">MÄNNL.</text><text x="1416.700" y="733.300" class="z6 b">23 m²</text><text x="1466" y="716.700" class="z55">UMKL.</text><text x="1466" y="725.700" class="z55">MÄNNL.</text><text x="1466" y="733.300" class="z6 b">23 m²</text><text x="1441.700" y="724.300" class="z4">WC</text><text x="1441.700" y="730.700" class="z4 b">8 m²</text></g>
<g id="node-uk1"><circle class="wl" cx="1499.300" cy="726.700" r="13"/><text x="1499.300" y="725.300" class="z6">UK. L</text><text x="1499.300" y="732.300" class="z35 b">15 m²</text></g>
<g id="node-uk2"><circle class="wl" cx="1526" cy="726.700" r="13"/><text x="1526" y="725.300" class="z6">UK. L</text><text x="1526" y="732.300" class="z35 b">15 m²</text></g>
<g id="node-umklw"><circle class="wl" cx="1558.300" cy="725" r="18.500"/><circle class="wl" cx="1608.300" cy="725" r="18"/><circle class="wl" cx="1583.300" cy="706.700" r="15"/><circle class="wl" cx="1583.300" cy="726.700" r="7.500"/>
<text x="1583.300" y="702" class="z5">DUSCHE</text><text x="1583.300" y="710" class="z65 b">16 m²</text><text x="1558.300" y="716.700" class="z55">UMKL.</text><text x="1558.300" y="725.700" class="z55">WEIBL.</text><text x="1558.300" y="733.300" class="z6 b">23 m²</text><text x="1608.300" y="716.700" class="z55">UMKL.</text><text x="1608.300" y="725.700" class="z55">WEIBL.</text><text x="1608.300" y="733.300" class="z6 b">23 m²</text><text x="1583.300" y="724.300" class="z4">WC</text><text x="1583.300" y="730.700" class="z4 b">8 m²</text></g>
</g>
<text x="1299.500" y="980" class="l z11 b">SPORTBEREICH</text>
<text x="1299.500" y="995.600" class="l z11">ZWEIFELDHALLE</text>

<g id="moeglichst"><polygon class="ch" points="1200,799 1213.500,778 1227,799 1222,803 1213.500,789 1205,803"/><text x="1215.600" y="822.300" class="z6">MÖGLICHST ENGE</text><text x="1215.600" y="831.700" class="z6">VERBINDUNG UND</text><text x="1215.600" y="840.700" class="z6">SEPARATE EINGANGS-</text><text x="1215.600" y="849.300" class="z6">MÖGLICHKEIT FÜR</text><text x="1215.600" y="858.300" class="z6">EXTERNE NUTZUNG</text></g>
<text x="984.400" y="915.700" class="z65">ÜBERDACHTER</text><text x="984.400" y="925.300" class="z65">EINGANGSBEREICH</text>

<g id="grundschule">
<path fill="#f0ebe5" d="M751,832.300L812,876C820,881 816,889 812,889C822,900 829,912 829,925V1080H673.700V925C673.700,912 681,900 691,889C687,889 682,881 690,876Z"/>
<polygon fill="#fff" points="717,871.700 751,848.300 785,871.700 751,855.700"/>
<text x="751" y="912" class="z85" style="fill:#c0a99b">ZUGANG ZU DER</text><text x="751" y="927.700" style="fill:#a5857b;font-weight:500;font-size:15.6px">GRUNDSCHULE</text><text x="751" y="949.300" style="fill:#a5857b;font-weight:500;font-size:15.6px">SCHERMBECK</text>
</g>
<g id="ankommen"><circle cx="674.300" cy="1055" r="61.800" fill="#fff" stroke="#666" stroke-width="1.200" stroke-dasharray="1 3" stroke-linecap="round"/><circle class="w" cx="674.300" cy="1055.500" r="46.400"/><text x="674.300" y="1042.300" class="z105" style="font-weight:700;fill:#111">ANKOMMEN</text><text x="674.300" y="1057.300" class="z105" style="font-weight:700;fill:#111">SICH</text><text x="674.300" y="1072.300" class="z105" style="font-weight:700;fill:#111">TREFFEN</text></g>
<g id="stellflaeche"><rect class="clf" x="225" y="936.700" width="167.700" height="181" rx="30"/><text x="308.300" y="995.300" class="z105">STELLFLÄCHE</text><text x="308.300" y="1011.700" class="z105">BUSVERKEHR</text><text x="308.300" y="1041.300" class="z105">FAHRRAD</text><text x="308.300" y="1057.300" class="z105">STELLPLÄTZE</text></g>
<g id="zufahrt"><polygon class="ch" points="490.700,1076.700 503.300,1056 516,1076.700 511.700,1080.700 503.300,1066.700 495,1080.700"/><text x="503.300" y="1121.700" class="z65">ZUFAHRTS-</text><text x="503.300" y="1130.700" class="z65">BEREICH</text></g>
<g id="komm-beweg"><rect x="988.400" y="1046.700" width="258" height="141" fill="#f5f5f2"/><circle class="sg" cx="989" cy="1117.300" r="70"/><rect class="sg" x="1134.800" y="1046.700" width="140.600" height="141" rx="31"/>
<text x="988.800" y="1101" class="z105">KOMMUNIKATION</text><text x="988.800" y="1116" class="z105">UND</text><text x="988.800" y="1131" class="z105">BEGEGNUNG</text>
<text x="1204.900" y="1078.300" class="z105">INFORMELLE</text><text x="1204.900" y="1093.300" class="z105">BEWEGUNGS-</text><text x="1204.900" y="1109" class="z105">MÖGLICHKEITEN</text><text x="1204.900" y="1139.300" class="z105">BEWEGUNG</text><text x="1204.900" y="1155" class="z105">UND SPIEL</text></g>

<g id="legend">
<text class="leg" style="text-anchor:end" x="107" y="1229">Unterrichtsraum</text><text class="leg" style="text-anchor:end" x="150" y="1258">Differenzierungsraum</text><text class="leg" style="text-anchor:end" x="111" y="1287">Mehrzweckraum</text>
<rect x="177.500" y="1222.500" width="17" height="16" rx="4" fill="#fff" stroke="#f0c4b0" stroke-width="1.200"/><text class="leg" x="204.600" y="1229">Materialraum</text>
<rect x="177.500" y="1251.500" width="17" height="16" rx="4" fill="#f5d3c5"/><text class="leg" x="204.600" y="1258">Ganztagsbereich</text>
<rect x="177.500" y="1280.500" width="17" height="16" rx="4" fill="url(#hO)" stroke="#eeb9a5" stroke-width="1.200"/><text class="leg" x="204.600" y="1287">Päd. nutzbare Erschließung</text>
<rect x="453" y="1222.500" width="17" height="16" rx="4" fill="#aecbe8"/><text class="leg" x="480.500" y="1229">Lernwerkstatt</text>
<rect x="453" y="1251.500" width="17" height="16" rx="4" fill="url(#hB)"/><text class="leg" x="480.500" y="1258">Nebenraum</text>
<rect x="453" y="1280.500" width="17" height="16" rx="4" fill="url(#hB2)" stroke="#a9c8e6" stroke-width="1.200"/><text class="leg" x="480.500" y="1287">Offener Lernbereich</text>
<rect x="669" y="1222.500" width="17" height="16" rx="4" fill="#fde2ab"/><text class="leg" x="696.400" y="1229">Verwaltung</text>
<rect x="669" y="1251.500" width="17" height="16" rx="4" fill="#fef1da"/><text class="leg" x="696.400" y="1258">Teambereiche</text>
<rect x="669" y="1280.500" width="17" height="16" rx="4" fill="url(#hY)" stroke="#fcd795" stroke-width="1.200"/><text class="leg" x="696.400" y="1287">Kontaktbereich</text>
<rect x="845.500" y="1222.500" width="17" height="16" rx="4" fill="url(#hP)"/><text class="leg" x="873" y="1229">Foyer / Forum</text>
<rect x="845.500" y="1251.500" width="17" height="16" rx="4" fill="#cfa0a6"/><text class="leg" x="873" y="1258">Mensa / Küche</text>
<rect x="845.500" y="1280.500" width="17" height="16" rx="4" fill="#e8d0d3"/><text class="leg" x="873" y="1287">Bücherei</text>
<rect x="1021" y="1222.500" width="17" height="16" rx="4" fill="#fff" stroke="#555" stroke-width="1"/><text class="leg" x="1049" y="1229">Nebenfläche</text>
<rect class="clf" x="1021" y="1251" width="17" height="16" rx="7"/><text class="leg" x="1049" y="1258">Cluster</text>
<path fill="#f8e0d4" d="M1024,1282C1028,1278 1034,1281 1034,1286C1035,1290 1039,1292 1039,1295C1038,1299 1032,1299 1029,1296C1024,1293 1020,1287 1024,1282Z"/><text class="leg" x="1049" y="1287">Funktionsbereich</text>
<path d="M1215,1237L1233,1220" fill="none" stroke="#222" stroke-width="1"/><text class="leg" x="1243" y="1228.500">Direkter räumlicher Zusammenhang</text>
<path d="M1215,1266L1233,1249" fill="none" stroke="#222" stroke-width="1"/><circle class="d" cx="1223.500" cy="1258" r="3"/><text class="leg" x="1243" y="1257.500">Koppelbar, zusammenschaltbar</text>
<path d="M1215,1295L1233,1278" fill="none" stroke="#222" stroke-width="1" stroke-dasharray="4 4"/><text class="leg" x="1243" y="1286.500">Räumliche Nähe</text>
</g>
</svg>
